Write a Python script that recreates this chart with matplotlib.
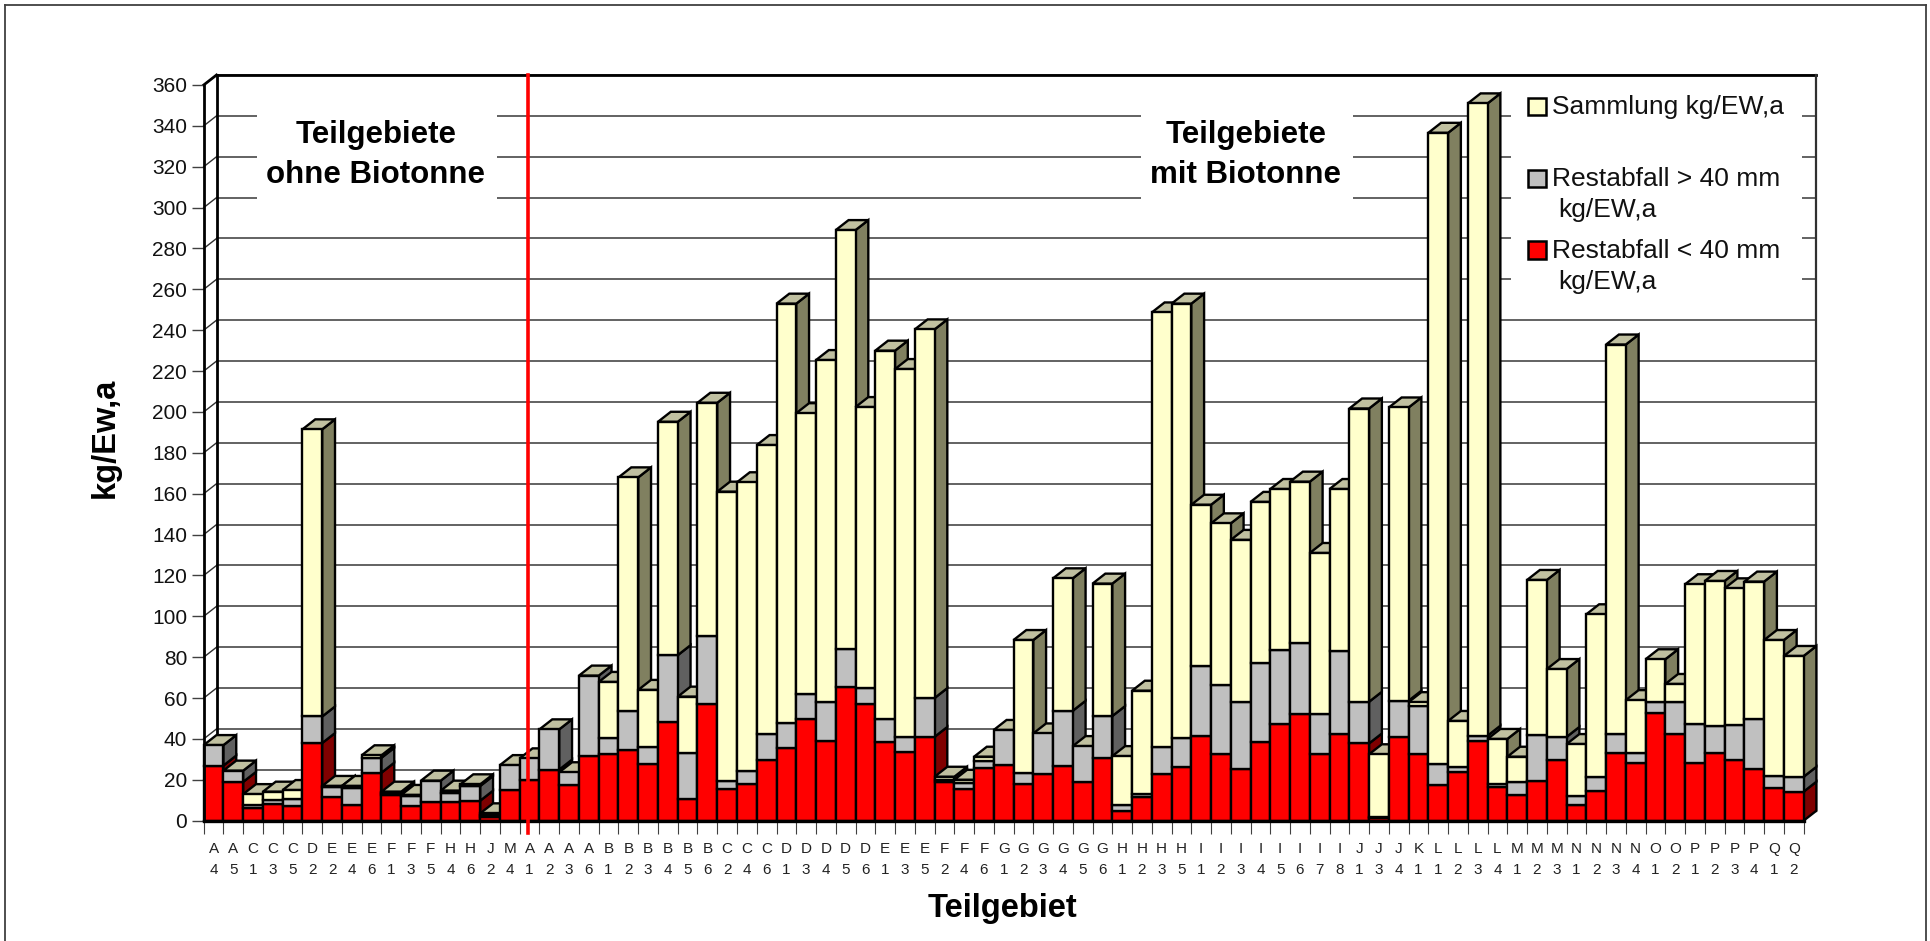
import matplotlib
matplotlib.use("Agg")
import matplotlib.pyplot as plt
from matplotlib.patches import Polygon, Rectangle
from matplotlib.lines import Line2D
from matplotlib.transforms import Affine2D

plt.rcParams['font.family'] = ['Liberation Sans', 'DejaVu Sans']

categories = ["A4","A5","C1","C3","C5","D2","E2","E4","E6","F1","F3","F5","H4","H6","J2","M4",
              "A1","A2","A3","A6","B1","B2","B3","B4","B5","B6","C2","C4","C6",
              "D1","D3","D4","D5","D6","E1","E3","E5","F2","F4","F6",
              "G1","G2","G3","G4","G5","G6","H1","H2","H3","H5",
              "I1","I2","I3","I4","I5","I6","I7","I8","J1","J3","J4","K1",
              "L1","L2","L3","L4","M1","M2","M3","N1","N2","N3","N4",
              "O1","O2","P1","P2","P3","P4","Q1","Q2"]
rest_klein = [27,19,6,8.2,7.3,38,11.7,7.7,23.5,12.6,7.2,9,9,9.8,2,15,
              20,25,17.3,31.6,32.6,34.6,27.6,48.4,10.6,57,15.3,17.8,29.7,
              35.4,50,39.1,65.3,57,38.3,33.4,41,18.8,15.5,25.6,
              27.2,18,22.7,26.9,18.8,30.5,4.7,11.4,22.8,26.1,
              41.6,32.6,25.3,38.7,47.3,52,32.5,42.4,37.8,1.1,41,32.5,
              17.5,24,39,16.3,12.6,19.6,29.7,7.7,14.7,33.3,28.4,
              52.5,42.3,28,33.3,29.7,25.3,16.1,14.2]
rest_gross = [10,5.5,1.7,1.8,3.3,13,4.9,8.4,7.3,1.1,4.8,10.6,4.7,7.2,.8,12.2,
              10.5,19.7,6.4,39.4,7.7,18.9,8.3,32.6,22.4,33.5,4.3,6.3,12.5,
              12.2,12,18.8,18.6,7.8,11.5,7.4,19,1.1,2.8,3.8,
              17.2,5.5,20,26.9,17.7,20.7,3,1.6,13.1,14.2,
              34.1,33.8,32.9,38.3,36.2,34.8,19.5,40.8,20.4,.9,17.7,23.8,
              10.1,2.4,2.6,1.7,6.5,22.3,11.3,4.3,6.8,9.1,4.9,
              5.7,15.6,19.3,13.2,17.1,24.7,5.8,7.3]
sammlung = [0,0,5.3,4.2,4.4,140.5,.4,.9,1.2,.5,.6,0,1,.8,.8,0,
            0,0,0,0,27.6,114.5,28.1,114.2,27.7,114,141.4,141.5,141.6,
            205.4,137.4,167.5,205.1,137.6,180.2,180.2,180.4,1.6,1.7,1.9,
            0,64.9,0,64.8,0,64.8,23.9,50.6,212.8,212.7,
            78.9,79.1,79.2,79,78.8,79.1,79,79.1,143.5,30.5,143.5,1.7,
            309,22.4,309.4,22,12.2,75.9,33.2,25.5,79.5,190.6,25.7,
            20.8,9,68.4,70.8,66.9,67,66.5,59.1]
y_ticks = list(range(0, 361, 20))
series_names = ["Sammlung kg/EW,a", "Restabfall > 40 mm\n  kg/EW,a", "Restabfall < 40 mm\n  kg/EW,a"]

W, H = 1930, 941
fig = plt.figure(figsize=(W/100, H/100), dpi=100, facecolor='white')
L, R, B, T = 203.7, 1803.6, 820.7, 85
ax = fig.add_axes([L/W, 1-B/H, (R-L)/W, (B-T)/H])
ax.set_xlim(0, len(categories))
ax.set_ylim(0, 360)
ax.patch.set_visible(False)
n = len(categories)
DX = 12.8/((R-L)/n)      # depth in category units
DY = 10/((B-T)/360)      # depth in value units
EDGE = 1.7
PIX = Affine2D()         # display pixels, origin bottom left

def LINE(xs, ys, **k):
    ax.add_line(Line2D(xs, ys, clip_on=False, **k))

# walls
for v in y_ticks[1:]:
    LINE([DX, n+DX], [v+DY, v+DY], color='#484848', lw=1.2, zorder=1)
for v in y_ticks:
    LINE([0, DX], [v, v+DY], color='#303030', lw=1.0, zorder=1)
LINE([DX, n+DX], [360+DY, 360+DY], color='black', lw=2.0, zorder=1.2)
LINE([DX, DX], [DY, 360+DY], color='black', lw=2.0, zorder=1.2)
LINE([0, DX], [360, 360+DY], color='black', lw=2.0, zorder=1.2)
LINE([n+DX, n+DX], [DY, 360+DY], color='#303030', lw=1.6, zorder=1.2)

# white boxes behind the notes and the key
for x0, y0, x1, y1 in [(257, 90, 497, 205), (1141, 90, 1353, 205), (1511, 90, 1802, 300)]:
    ax.add_patch(Rectangle((x0, H-y1), x1-x0, y1-y0, transform=PIX,
                           fc='white', ec='none', zorder=1.5, clip_on=False))

# stacked cuboids, left to right so the next column hides the side of the last
SEG = [(rest_klein, '#FF0000', '#800000'), (rest_gross, '#C0C0C0', '#606060'), (sammlung, '#FFFFCC', '#808060')]
TOPC = '#C0C0A0'
z = 2.0
for i in range(n):
    base = 0
    for vals, front, side in SEG:
        h = vals[i]
        if h > 0:
            ax.add_patch(Polygon([(i+1, base), (i+1+DX, base+DY), (i+1+DX, base+h+DY), (i+1, base+h)],
                                 fc=side, ec='black', lw=EDGE, zorder=z, clip_on=False, joinstyle='miter'))
        base += h
    ax.add_patch(Polygon([(i, base), (i+1, base), (i+1+DX, base+DY), (i+DX, base+DY)],
                         fc=TOPC, ec='black', lw=EDGE, zorder=z, clip_on=False, joinstyle='miter'))
    base = 0
    for vals, front, side in SEG:
        h = vals[i]
        if h > 0:
            ax.bar(i+0.5, h, width=1, bottom=base, color=front, edgecolor='black', linewidth=EDGE,
                   zorder=z+0.001, clip_on=False)
        base += h
    z += 0.01

# axes
for s in ('top', 'right'):
    ax.spines[s].set_visible(False)
ax.spines['left'].set_linewidth(2.0)
ax.spines['bottom'].set_linewidth(2.4)
ax.spines['left'].set_zorder(5)
ax.spines['bottom'].set_zorder(5)
ax.set_yticks(y_ticks)
ax.tick_params(axis='y', length=9, width=1.0, color='#404040', pad=3, labelsize=15, labelcolor='#111111')
ax.set_xticks(range(n+1))
ax.set_xticklabels([])
ax.tick_params(axis='x', which='major', length=9.3, width=0.8, color='#404040')
ax.set_xticks([i+0.5 for i in range(n)], minor=True)
ax.set_xticklabels([c[0]+"\n"+c[1] for c in categories], minor=True, fontsize=11, linespacing=1.66, color='#222222')
ax.tick_params(axis='x', which='minor', length=0, pad=15.5)

ax.set_xlabel("Teilgebiet", fontsize=23.5, fontweight='bold')
ax.xaxis.set_label_coords(1003, H-908, transform=PIX)
ax.xaxis.label.set_va('center')
ax.set_ylabel("kg/Ew,a", fontsize=23.5, fontweight='bold')
ax.yaxis.set_label_coords(105, H-438, transform=PIX)
ax.yaxis.label.set_va('center')

# border between the two groups
SPLIT = 16.43
LINE([SPLIT, SPLIT], [(B-833)/((B-T)/360), (B-75)/((B-T)/360)], color='#FF0000', lw=2.6, zorder=50)

def ptext(x, y, s, **k):
    fig.text(x/W, 1-y/H, s, va='center', **k)

ptext(376, 135, "Teilgebiete", ha='center', fontsize=22.5, fontweight='bold')
ptext(376, 175, "ohne Biotonne", ha='center', fontsize=22.5, fontweight='bold')
ptext(1246, 135, "Teilgebiete", ha='center', fontsize=22.5, fontweight='bold')
ptext(1246, 175, "mit Biotonne", ha='center', fontsize=22.5, fontweight='bold')

# key
key_y = [106.5, 178.5, 250]
colors = ['#FFFFCC', '#C0C0C0', '#FF0000']
text_y = [107.5, 179.5, 251.5]
for yy, ty, c, name in zip(key_y, text_y, colors, series_names):
    ax.add_patch(Rectangle((1528, H-yy-8.5), 17.5, 17.5, transform=PIX, fc=c, ec='black',
                           lw=1.8, zorder=60, clip_on=False))
    parts = name.split("\n")
    ptext(1551.5, ty, parts[0], ha='left', fontsize=19, color='#111111')
    if len(parts) > 1:
        ptext(1558.5, ty+30, parts[1].strip(), ha='left', fontsize=19, color='#111111')

# picture frame
for xs, ys in [((5, 5), (5, 941)), ((5, 1926), (5, 5)), ((1926, 1926), (5, 941))]:
    fig.add_artist(Line2D([x/W for x in xs], [1-y/H for y in ys], color='#404040', lw=1.3))

fig.savefig("out.png", dpi=100, facecolor='white')
